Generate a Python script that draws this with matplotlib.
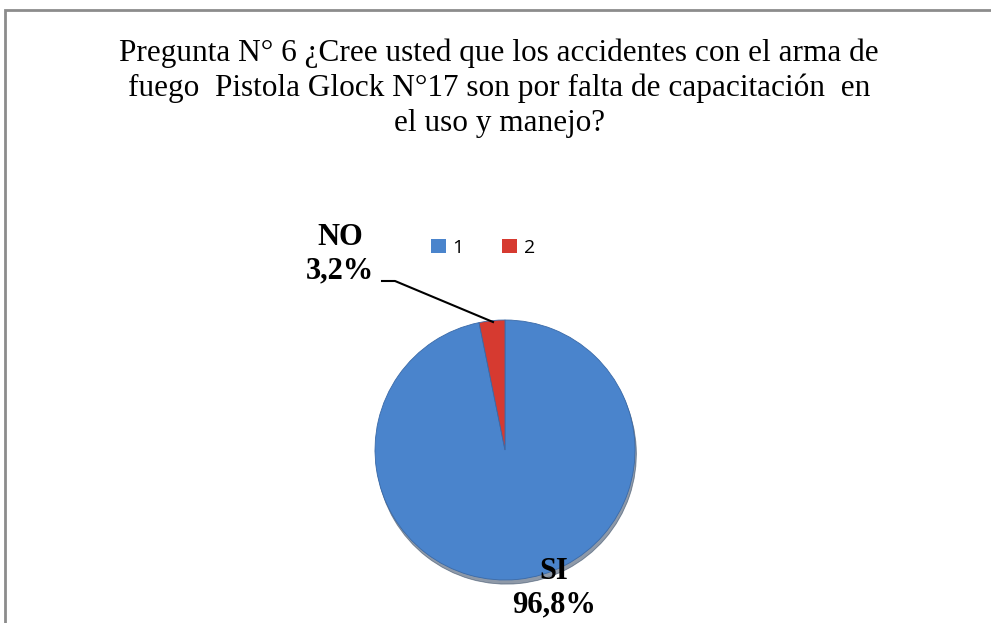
import matplotlib
matplotlib.use("Agg")
import matplotlib.pyplot as plt
from matplotlib.patches import Rectangle, Patch

# Datos
categorias = ["1", "2"]
etiquetas = ["SI", "NO"]
porcentajes = [96.8, 3.2]
colores = ["#4A84CC", "#D63A30"]
titulo = ("Pregunta N° 6 ¿Cree usted que los accidentes con el arma de\n"
          "fuego  Pistola Glock N°17 son por falta de capacitación  en\n"
          "el uso y manejo?")

W, H = 991, 623
fig = plt.figure(figsize=(W / 100, H / 100), dpi=100)
fig.patch.set_facecolor("white")

# marco del grafico (cortado a la derecha y abajo)
fig.patches.append(Rectangle((5 / W, -0.1), 1.1, 1 - 10 / H + 0.1,
                             transform=fig.transFigure, fill=False,
                             edgecolor="#8c8c8c", linewidth=2))

# ejes en pixeles
ax = fig.add_axes([0, 0, 1, 1])
cx, cy, r = 505, H - 450, 130
ax.pie(porcentajes, colors=colores, startangle=90, counterclock=False,
       center=(cx, cy), radius=r,
       shadow={"ox": 1, "oy": -3, "shade": 0.6},
       wedgeprops=dict(edgecolor="#3a6aa8", linewidth=0.6))
ax.set_xlim(0, W)
ax.set_ylim(0, H)
ax.set_aspect("equal")
ax.axis("off")

fig.text(499 / W, 1 - 38 / H, titulo, ha="center", va="top",
         family="Liberation Serif", fontsize=22.5, linespacing=1.27)

# etiquetas de datos
ax.text(340, H - 254, "%s\n%s%%" % (etiquetas[1], str(porcentajes[1]).replace(".", ",")),
        ha="center", va="center", family="Liberation Serif",
        fontweight="bold", fontsize=22, linespacing=1.2)
ax.text(554, H - 588, "%s\n%s%%" % (etiquetas[0], str(porcentajes[0]).replace(".", ",")),
        ha="center", va="center", family="Liberation Serif",
        fontweight="bold", fontsize=22, linespacing=1.2)
ax.plot([382, 395, 493], [H - 281, H - 281, H - 322], color="black", lw=1.5)

# leyenda
handles = [Patch(facecolor=c, edgecolor="none") for c in colores]
fig.legend(handles, categorias, loc="center", bbox_to_anchor=(483 / W, 1 - 248 / H),
           ncol=2, frameon=False, handlelength=0.75, handleheight=0.75,
           handletextpad=0.35, columnspacing=2.0,
           prop={"family": "Open Sans", "size": 14})

fig.savefig("out.png", dpi=100)
